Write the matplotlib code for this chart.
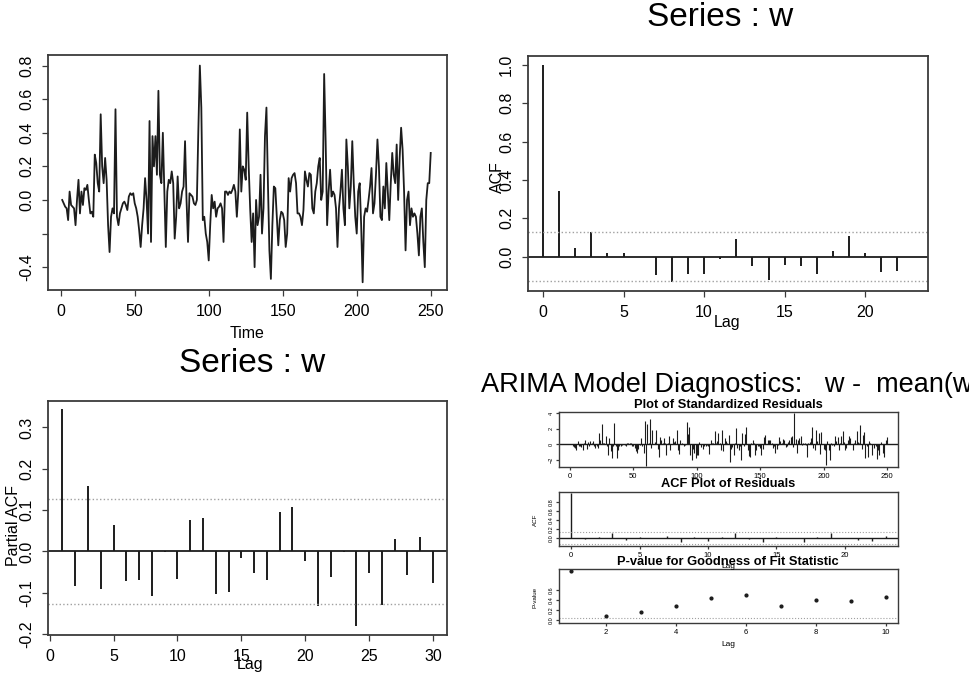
import numpy as np
import matplotlib.pyplot as plt

plt.rcParams['font.family'] = ['Liberation Sans', 'DejaVu Sans']

# series w
w = [0.00, -0.02, -0.04, -0.05, -0.12, 0.05, -0.03, -0.04, -0.05, -0.15,
     0.00, 0.12, -0.08, 0.05, -0.03, 0.07, 0.06, 0.09, 0.00, -0.08,
     -0.07, -0.10, 0.27, 0.22, 0.10, 0.05, 0.51, 0.20, 0.10, 0.25,
     0.12, -0.15, -0.31, -0.10, -0.05, -0.08, 0.54, -0.10, -0.15, -0.08,
     -0.05, -0.02, -0.01, -0.03, -0.06, 0.02, 0.04, 0.03, 0.04, -0.02,
     -0.05, -0.10, -0.18, -0.28, -0.15, -0.05, 0.13, 0.00, -0.20, 0.47,
     -0.25, 0.38, 0.20, 0.38, 0.15, 0.65, 0.15, 0.10, 0.40, 0.05,
     -0.28, 0.05, 0.12, 0.10, 0.17, 0.10, -0.23, -0.10, 0.14, -0.05,
     -0.02, 0.05, 0.08, 0.35, 0.00, -0.25, 0.04, 0.03, 0.02, -0.02,
     -0.03, 0.00, 0.42, 0.80, 0.55, -0.12, -0.10, -0.20, -0.25, -0.36,
     -0.15, 0.03, -0.05, -0.01, -0.10, -0.05, -0.04, -0.02, -0.05, -0.25,
     0.05, 0.05, 0.03, 0.05, 0.04, 0.06, 0.09, 0.05, -0.10, 0.05,
     0.42, 0.05, 0.20, 0.18, 0.12, 0.52, 0.20, -0.05, -0.25, -0.08,
     -0.40, 0.00, -0.15, -0.10, 0.15, -0.20, -0.05, 0.38, 0.55, 0.10,
     -0.30, -0.47, -0.15, 0.08, 0.07, -0.10, -0.27, -0.12, -0.07, -0.08,
     -0.12, -0.28, -0.20, 0.13, 0.05, 0.13, 0.15, 0.16, 0.10, -0.08,
     -0.08, -0.10, -0.15, -0.06, 0.17, 0.12, 0.08, 0.16, 0.15, -0.05,
     -0.08, 0.05, 0.10, 0.20, 0.25, 0.00, 0.05, 0.75, 0.35, -0.15,
     0.05, 0.18, 0.02, 0.05, 0.03, -0.05, -0.28, -0.05, 0.05, 0.18,
     -0.05, -0.15, 0.36, 0.20, -0.05, 0.08, 0.35, 0.10, -0.10, -0.20,
     0.05, 0.10, -0.15, -0.49, -0.10, -0.05, -0.07, 0.00, 0.08, 0.19,
     -0.08, -0.02, 0.15, 0.36, 0.20, -0.10, -0.12, 0.08, -0.05, 0.22,
     0.05, -0.12, 0.10, 0.28, 0.15, 0.10, 0.33, 0.00, 0.25, 0.43,
     0.30, 0.05, -0.30, 0.00, 0.05, -0.15, -0.05, -0.10, -0.08, -0.10,
     -0.20, -0.33, -0.10, -0.05, -0.25, -0.40, 0.00, 0.10, 0.10, 0.28]

# ACF of w
acf_val = [1.0, 0.344, 0.047, 0.13, 0.02, 0.017, -0.005, -0.096, -0.133, -0.089,
           -0.093, -0.014, 0.091, -0.049, -0.124, -0.044, -0.052, -0.089, 0.03, 0.108,
           0.021, -0.08, -0.075]

# partial ACF of w, lags 1..30
pacf_val = [0.344, -0.084, 0.159, -0.09, 0.063, -0.071, -0.068, -0.108, -0.002, -0.066,
            0.076, 0.08, -0.104, -0.098, -0.015, -0.053, -0.069, 0.096, 0.108, -0.023,
            -0.132, -0.061, -0.002, -0.181, -0.053, -0.13, 0.031, -0.056, 0.035, -0.076]

# standardized residuals
resid = [0.0, -0.3, -0.4, -0.5, -0.8, 0.4, -0.3, -0.2, -0.4, -0.8,
         0.1, 0.6, -0.6, 0.3, -0.3, 0.4, 0.2, 0.4, -0.2, -0.5,
         -0.3, -0.5, 1.5, 0.6, 2.6, 0.1, 0.2, 1.0, -0.2, -1.4,
         0.8, -0.9, -1.8, -0.2, 2.7, -0.3, -1.8, -0.8, -0.3, -0.2,
         -0.1, 0.0, -0.1, -0.3, 0.2, 0.2, 0.1, 0.2, -0.2, -0.3,
         -0.5, -0.9, -1.2, -0.6, -0.1, 0.8, -0.2, -1.2, 3.0, -2.8,
         2.6, 0.2, 3.2, -0.5, 1.9, 0.0, 0.3, 1.9, -0.6, -1.6,
         0.9, 0.5, 0.2, 0.8, 0.1, -1.4, 0.2, 1.0, -0.7, 0.0,
         0.8, 0.3, 0.4, 1.9, -0.7, -1.3, 0.6, 0.1, 0.0, -0.2,
         -0.1, 2.9, 1.3, 2.2, -1.4, -2.0, -0.6, -1.2, -1.8, -1.4,
         -1.4, 0.3, -0.4, 0.0, -0.6, -0.2, -0.2, -0.1, -0.3, -1.3,
         0.6, 0.2, 0.1, 1.7, 0.2, 0.4, 1.5, 0.1, -0.7, 1.9,
         -0.9, 0.8, 0.4, 0.1, 1.2, -2.3, -0.6, -0.4, -1.4, 0.2,
         2.1, -0.5, -0.8, -0.3, -2.0, 1.5, -0.2, 1.3, 2.2, -0.8,
         -1.5, -1.6, 0.2, 0.6, 0.2, -1.4, -0.7, -0.3, -0.3, -0.5,
         -1.4, -0.6, 0.9, 1.2, 0.0, 0.6, 0.6, 0.6, 0.2, -0.5,
         -0.3, -1.1, -0.6, -0.1, 0.9, 0.4, 0.2, 0.7, 0.5, -0.4,
         -0.3, 0.3, 0.5, 0.9, 1.0, -0.4, 4.0, 0.7, -1.2, 0.5,
         0.8, 1.0, -0.1, 0.2, 0.1, -0.1, -1.6, 0.2, 0.3, 0.8,
         2.2, -0.5, -0.7, 1.8, 0.4, 1.5, -1.3, 1.6, 0.0, -0.6,
         -0.8, -2.7, 0.4, -0.7, -2.0, 0.2, -0.1, -0.2, 1.1, 0.4,
         0.9, -0.7, 0.1, 1.0, 1.7, 0.3, -0.8, -0.5, 0.6, 1.0,
         0.8, 0.0, -0.8, 0.2, 0.5, 1.7, 0.3, 0.2, 2.5, -0.6,
         1.2, 1.6, -1.8, -0.2, -1.6, 0.4, 0.1, -1.4, 0.0, -0.5,
         -0.3, -1.9, -0.8, -1.4, 0.3, 0.0, -1.2, -1.6, 0.6, 0.9]

# ACF of residuals, lags 0..23
racf_val = [1.0, -0.02, 0.01, 0.12, -0.04, 0.02, -0.01, 0.04, -0.08, 0.01,
            -0.07, 0.02, 0.12, -0.03, -0.08, 0.01, -0.01, -0.08, 0.02, 0.1,
            0.0, -0.05, -0.06, 0.05]

# goodness of fit p-values, lags 1..10
pval = [1.0, 0.09, 0.17, 0.28, 0.45, 0.51, 0.29, 0.41, 0.38, 0.47]

conf = 0.126
INK = '#1c1c1c'
BOX = '#3a3a3a'
DOT = '#a0a0a0'
W, H = 969.0, 677.0


def box(px_left, px_top, px_right, px_bottom):
    return [px_left / W, 1 - px_bottom / H, (px_right - px_left) / W, (px_bottom - px_top) / H]


def style(ax, xs, ys, pad=6, lw=1.3, tl=4):
    for s in ax.spines.values():
        s.set_color(BOX)
        s.set_linewidth(lw)
    ax.tick_params(direction='out', length=tl, width=0.9, colors=BOX,
                   labelcolor='black', pad=pad)
    plt.setp(ax.get_xticklabels(), fontsize=xs)
    plt.setp(ax.get_yticklabels(), fontsize=ys, rotation=90, va='center')


def label(x, y, s, size, rot=0, weight='normal', ha='center'):
    fig.text(x / W, 1 - y / H, s, ha=ha, va='center', fontsize=size,
             rotation=rot, fontweight=weight)


fig = plt.figure(figsize=(9.69, 6.77), dpi=100)

# time plot
ax1 = fig.add_axes(box(48, 55, 447, 290))
t = np.arange(1, len(w) + 1)
ax1.plot(t, w, color=INK, lw=1.3)
ax1.set_xlim(-8.6, 261)
ax1.set_ylim(-0.536, 0.863)
ax1.set_xticks([0, 50, 100, 150, 200, 250])
ax1.set_yticks([-0.4, -0.2, 0.0, 0.2, 0.4, 0.6, 0.8])
ax1.set_yticklabels(['-0.4', '', '0.0', '0.2', '0.4', '0.6', '0.8'])
style(ax1, 11.5, 11.5)
label(247, 333, 'Time', 11.5)

# ACF of w
ax2 = fig.add_axes(box(528, 56, 928, 291))
lags = np.arange(len(acf_val))
ax2.vlines(lags, 0, acf_val, color=INK, lw=1.4)
ax2.axhline(0, color=INK, lw=1.3)
for c in (conf, -conf):
    ax2.axhline(c, color=DOT, lw=1.0, ls=':')
ax2.set_xlim(-0.93, 23.9)
ax2.set_ylim(-0.18, 1.047)
ax2.set_xticks([0, 5, 10, 15, 20])
ax2.set_yticks([0.0, 0.2, 0.4, 0.6, 0.8, 1.0])
ax2.set_yticklabels(['0.0', '0.2', '0.4', '0.6', '0.8', '1.0'])
style(ax2, 11.5, 11.5)
label(720, 18, 'Series : w', 24)
label(497, 177, 'ACF', 11.5, rot=90)
label(727, 322, 'Lag', 11.5)

# partial ACF of w
ax3 = fig.add_axes(box(48, 401, 447, 635))
plags = np.arange(1, len(pacf_val) + 1)
ax3.vlines(plags, 0, pacf_val, color=INK, lw=1.4)
ax3.axhline(0, color=INK, lw=1.3)
for c in (conf, -conf):
    ax3.axhline(c, color=DOT, lw=1.0, ls=':')
ax3.set_xlim(-0.13, 31.1)
ax3.set_ylim(-0.202, 0.364)
ax3.set_xticks([0, 5, 10, 15, 20, 25, 30])
ax3.set_yticks([-0.2, -0.1, 0.0, 0.1, 0.2, 0.3])
ax3.set_yticklabels(['-0.2', '-0.1', '0.0', '0.1', '0.2', '0.3'])
style(ax3, 11.5, 11.5)
label(252, 363, 'Series : w', 24)
label(14, 526, 'Partial ACF', 11.5, rot=90)
label(250, 665, 'Lag', 11.5)

# ARIMA diagnostics
label(481, 385, 'ARIMA Model Diagnostics:   w -  mean(w)', 19.5, ha='left')

ax4 = fig.add_axes(box(559, 412, 898, 467))
rt = np.arange(1, len(resid) + 1)
ax4.vlines(rt, 0, resid, color=INK, lw=0.8)
ax4.axhline(0, color=INK, lw=1.0)
ax4.set_xlim(-8.7, 258.7)
ax4.set_ylim(-2.96, 4.17)
ax4.set_xticks([0, 50, 100, 150, 200, 250])
ax4.set_yticks([-2, 0, 2, 4])
style(ax4, 5.5, 4, pad=2, lw=1.0, tl=2)
label(728, 405, 'Plot of Standardized Residuals', 9.3, weight='bold')

ax5 = fig.add_axes(box(559, 492, 898, 546))
rlags = np.arange(len(racf_val))
ax5.vlines(rlags, 0, racf_val, color=INK, lw=1.0)
ax5.axhline(0, color=INK, lw=1.0)
for c in (conf, -conf):
    ax5.axhline(c, color=DOT, lw=0.8, ls=':')
ax5.set_xlim(-0.9, 23.9)
ax5.set_ylim(-0.18, 1.02)
ax5.set_xticks([0, 5, 10, 15, 20])
ax5.set_yticks([0.0, 0.2, 0.4, 0.6, 0.8])
ax5.set_yticklabels(['0.0', '0.2', '0.4', '0.6', '0.8'])
style(ax5, 5.5, 4, pad=2, lw=1.0, tl=2)
label(728, 484, 'ACF Plot of Residuals', 9.3, weight='bold')
label(535, 520, 'ACF', 4.5, rot=90)
label(728, 566, 'Lag', 6)

ax6 = fig.add_axes(box(559, 569, 898, 623))
qlags = np.arange(1, len(pval) + 1)
ax6.plot(qlags, pval, 'o', color=INK, ms=2)
ax6.axhline(0.05, color=DOT, lw=0.8, ls=':')
ax6.set_xlim(0.66, 10.34)
ax6.set_ylim(-0.06, 1.034)
ax6.set_xticks([2, 4, 6, 8, 10])
ax6.set_yticks([0.0, 0.2, 0.4, 0.6])
ax6.set_yticklabels(['0.0', '0.2', '0.4', '0.6'])
style(ax6, 5.5, 4, pad=2, lw=1.0, tl=2)
label(728, 562, 'P-value for Goodness of Fit Statistic', 9.3, weight='bold')
label(535, 597, 'P-value', 4.5, rot=90)
label(728, 644, 'Lag', 6)

fig.savefig('out.png', dpi=100)
